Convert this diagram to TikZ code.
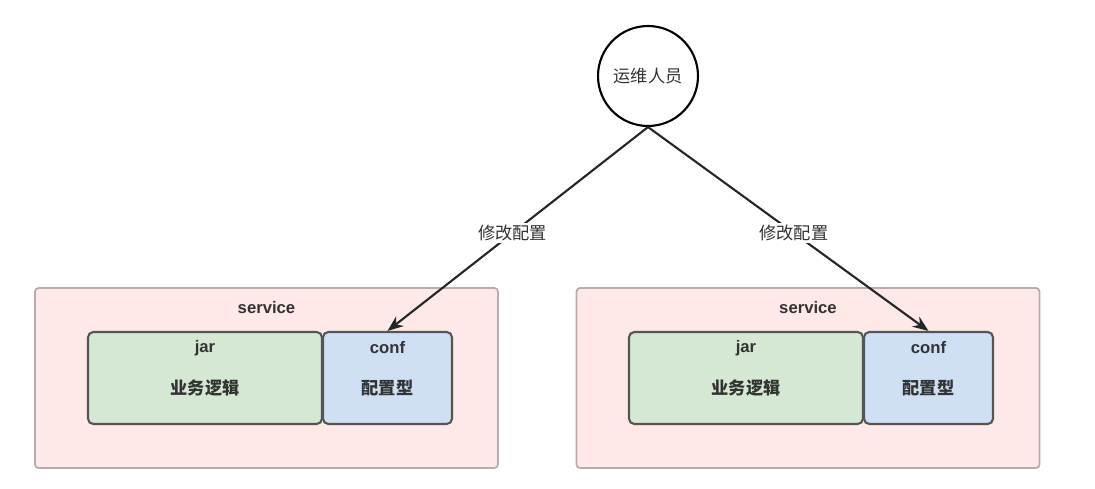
\documentclass[tikz,border=0pt]{standalone}
\usepackage{fontspec}
\setmainfont{Liberation Sans}
\newfontfamily\cjk{Noto Sans CJK SC}
\usepackage{xcolor}
\usepackage{tikz}
\usetikzlibrary{arrows.meta}

\definecolor{svcfill}{HTML}{FFE8E8}
\definecolor{svcline}{HTML}{B8ACAC}
\definecolor{jarfill}{HTML}{D5E8D4}
\definecolor{conffill}{HTML}{CFE0F5}
\definecolor{boxline}{HTML}{555555}
\definecolor{txt}{HTML}{333333}

\tikzset{
    svcbox/.style={draw=svcline, fill=svcfill, line width=1pt, rounded corners=2pt,
        minimum width=9.26cm, minimum height=3.6cm, inner sep=0pt},
    jarbox/.style={draw=boxline, fill=jarfill, line width=1.2pt, rounded corners=3pt,
        minimum width=4.68cm, minimum height=1.84cm, inner sep=0pt},
    confbox/.style={draw=boxline, fill=conffill, line width=1.2pt, rounded corners=3pt,
        minimum width=2.58cm, minimum height=1.84cm, inner sep=0pt},
    lbl/.style={text=txt, font=\fontsize{9.5}{10}\selectfont},
    zh/.style={text=txt, font=\cjk\fontsize{9.8}{11}\selectfont},
}

\begin{document}
\begin{tikzpicture}[x=0.02cm, y=-0.02cm]
    \useasboundingbox (0,0) rectangle (1095,489);

    % Người vận hành
    \node (staff) [circle, draw, line width=1.2pt, minimum size=2cm, zh] at (648,76) {运维人员};

    % Dịch vụ bên trái
    \node (svc1) [svcbox] at (266.5,378) {};
    \node (jar1) [jarbox] at (205,378) {};
    \node (conf1) [confbox] at (387.5,378) {};
    \node (svc1t) [lbl] at (266.5,308) {\textbf{service}};
    \node (jar1t) [lbl] at (205,348) {\textbf{jar}};
    \node (jar1c) [zh] at (205,388) {\textbf{业务逻辑}};
    \node (conf1t) [lbl] at (387.5,348) {\textbf{conf}};
    \node (conf1c) [zh] at (387.5,388) {\textbf{配置型}};

    % Dịch vụ bên phải
    \node (svc2) [svcbox] at (808,378) {};
    \node (jar2) [jarbox] at (746,378) {};
    \node (conf2) [confbox] at (928.5,378) {};
    \node (svc2t) [lbl] at (808,308) {\textbf{service}};
    \node (jar2t) [lbl] at (746,348) {\textbf{jar}};
    \node (jar2c) [zh] at (746,388) {\textbf{业务逻辑}};
    \node (conf2t) [lbl] at (928.5,348) {\textbf{conf}};
    \node (conf2c) [zh] at (928.5,388) {\textbf{配置型}};

    % Các mũi tên
    \begin{scope}[every path/.style={draw=black!85, line width=1.2pt}, every node/.style={zh, fill=white, inner sep=1pt}]
    \draw [-{Stealth[length=9pt, width=7pt]}] (staff.south)--(conf1.north) node[pos=0.52] {修改配置};
    \draw [-{Stealth[length=9pt, width=7pt]}] (staff.south)--(conf2.north) node[pos=0.52] {修改配置};
    \end{scope}

\end{tikzpicture}
\end{document}
